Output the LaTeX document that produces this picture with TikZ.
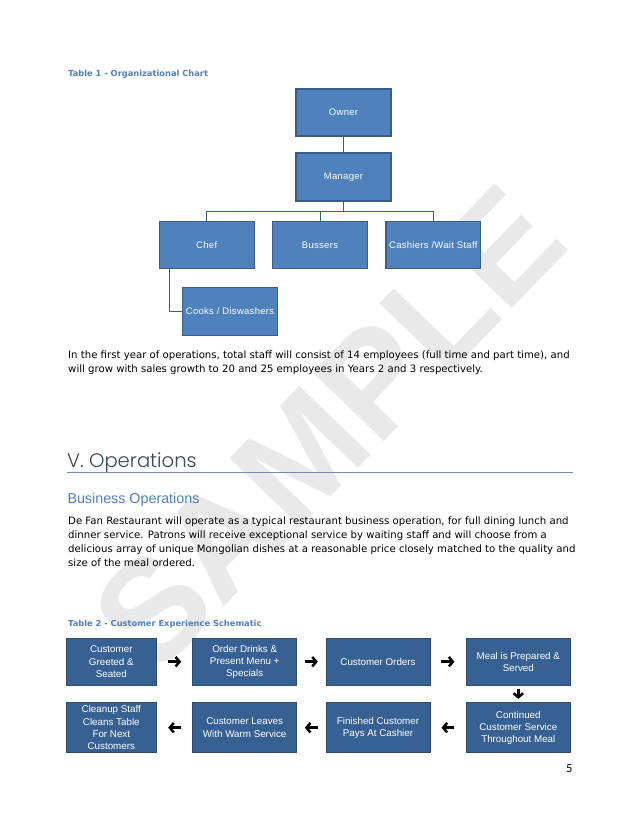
\documentclass[tikz,border=0pt]{standalone}
\usepackage{fontspec}
\setmainfont{DejaVu Sans}
\newfontfamily\boxfont{Liberation Sans}
\newfontfamily\orgfont{Liberation Sans}[LetterSpace=3]
\newfontfamily\headfont{Poppins Light}
\newfontfamily\pgfont{Carlito}
\usetikzlibrary{arrows.meta,calc}
\definecolor{orgfill}{HTML}{4F81BD}
\definecolor{orgline}{HTML}{385D8A}
\definecolor{schfill}{HTML}{376093}
\definecolor{schline}{HTML}{2B4B74}
\definecolor{titleblue}{HTML}{4F81BD}
\definecolor{headgray}{HTML}{3B4756}
\definecolor{rulecol}{HTML}{6F8DB5}
\definecolor{wmark}{HTML}{E9E9E9}
\begin{document}
\begin{tikzpicture}[x=1pt,y=-1pt,
  orgbox/.style={draw=orgline,line width=1.1pt,fill=orgfill,text=white,
    minimum width=94.7pt,minimum height=47.7pt,inner sep=0pt,
    font=\orgfont\fontsize{9.5}{11}\selectfont},
  orgline/.style={draw=orgline,line width=0.8pt},
  schbox/.style={draw=schline,line width=0.9pt,fill=schfill,text=white,
    minimum width=104pt,minimum height=46.7pt,inner sep=0pt,align=center,
    font=\boxfont\fontsize{9.8}{12.2}\selectfont},
  arr/.style={line width=2.5pt,-{Straight Barb[length=4pt,width=9.5pt]}},
  bodytext/.style={anchor=base west,inner sep=0pt,font=\fontsize{10.15}{13.7}\selectfont},
  tabtitle/.style={anchor=base west,inner sep=0pt,text=titleblue,
    font=\bfseries\fontsize{8.3}{9}\selectfont}]
\useasboundingbox[fill=white] (0,0) rectangle (638,826);
% watermark
\node[text=wmark,rotate=46,inner sep=0pt,font=\boxfont\bfseries\fontsize{144}{150}\selectfont] (wm) at (328,428) {SAMPLE};
% Table 1
\node[tabtitle] (t1) at (68,76.5) {Table 1 - Organizational Chart};
\node[orgbox,minimum width=95pt,minimum height=47pt] (owner) at (343.5,112.5) {Owner};
\node[orgbox,minimum width=95pt,minimum height=48pt] (manager) at (343.5,177) {Manager};
\node[orgbox] (chef) at (206.7,245) {Chef};
\node[orgbox] (bussers) at (320,245) {Bussers};
\node[orgbox] (cashiers) at (433.3,245) {Cashiers /Wait Staff};
\node[orgbox] (cooks) at (230,311.5) {Cooks / Diswashers};
\coordinate (bus) at (343.5,211.7);
\draw[orgline] (owner) -- (manager);
\draw[orgline] (manager.south) -- (bus) -| (chef.north);
\draw[orgline] (bus) -| (bussers.north);
\draw[orgline] (bus) -| (cashiers.north);
\draw[orgline] ([xshift=-37.4pt]chef.south) |- (cooks.west);
% paragraph 1
\node[bodytext] (p1a) at (68,358.7) {In the first year of operations, total staff will consist of 14 employees (full time and part time), and};
\node[bodytext] (p1b) at (68,372.3) {will grow with sales growth to 20 and 25 employees in Years 2 and 3 respectively.};
% heading
\node[anchor=base west,inner sep=0pt,text=headgray,font=\headfont\fontsize{19.6}{24}\selectfont] (h5) at (67,467.3) {V. Operations};
\draw[rulecol,line width=0.8pt] (67,472.7) coordinate (r1) -- (573,472.7) coordinate (r2);
\node[anchor=base west,inner sep=0pt,text=titleblue,font=\boxfont\fontsize{14.3}{16}\selectfont] (h6) at (67.3,503.3) {Business Operations};
% paragraph 2
\node[bodytext] (p2a) at (68,524) {De Fan Restaurant will operate as a typical restaurant business operation, for full dining lunch and};
\node[bodytext] (p2b) at (68,538) {dinner service. Patrons will receive exceptional service by waiting staff and will choose from a};
\node[bodytext] (p2c) at (68,552) {delicious array of unique Mongolian dishes at a reasonable price closely matched to the quality and};
\node[bodytext] (p2d) at (68,566) {size of the meal ordered.};
% Table 2
\node[tabtitle] (t2) at (68,626) {Table 2 - Customer Experience Schematic};
\node[schbox,minimum width=90.7pt] (s1) at (111.3,661.7) {Customer\\Greeted \&\\Seated};
\node[schbox] (s2) at (244.7,661.7) {Order Drinks \&\\Present Menu +\\Specials};
\node[schbox] (s3) at (378,661.7) {Customer Orders};
\node[schbox,minimum width=104.7pt] (s4) at (518.3,661.7) {Meal is Prepared \&\\Served};
\node[schbox,minimum width=104.7pt,minimum height=50pt] (s5) at (518.3,727.7) {Continued\\Customer Service\\Throughout Meal};
\node[schbox,minimum height=50pt] (s6) at (378,727.7) {Finished Customer\\Pays At Cashier};
\node[schbox,minimum height=50pt] (s7) at (244.7,727.7) {Customer Leaves\\With Warm Service};
\node[schbox,minimum width=90.7pt,minimum height=50pt] (s8) at (111.3,727.7) {Cleanup Staff\\Cleans Table\\For Next\\Customers};
\draw[arr] ($(s1.east)!0.5!(s2.west)+(-6.5,0)$) -- ($(s1.east)!0.5!(s2.west)+(6.5,0)$);
\draw[arr] ($(s2.east)!0.5!(s3.west)+(-6.5,0)$) -- ($(s2.east)!0.5!(s3.west)+(6.5,0)$);
\draw[arr] ($(s3.east)!0.5!(s4.west)+(-6.5,0)$) -- ($(s3.east)!0.5!(s4.west)+(6.5,0)$);
\draw[arr] ($(s4.south)!0.5!(s5.north)+(0,-5)$) -- ($(s4.south)!0.5!(s5.north)+(0,5)$);
\draw[arr] ($(s5.west)!0.5!(s6.east)+(6.5,0)$) -- ($(s5.west)!0.5!(s6.east)+(-6.5,0)$);
\draw[arr] ($(s6.west)!0.5!(s7.east)+(6.5,0)$) -- ($(s6.west)!0.5!(s7.east)+(-6.5,0)$);
\draw[arr] ($(s7.west)!0.5!(s8.east)+(6.5,0)$) -- ($(s7.west)!0.5!(s8.east)+(-6.5,0)$);
\node[anchor=base,inner sep=0pt,font=\pgfont\fontsize{12.5}{14}\selectfont] (pg) at (569.2,772.7) {5};
\end{tikzpicture}
\end{document}
